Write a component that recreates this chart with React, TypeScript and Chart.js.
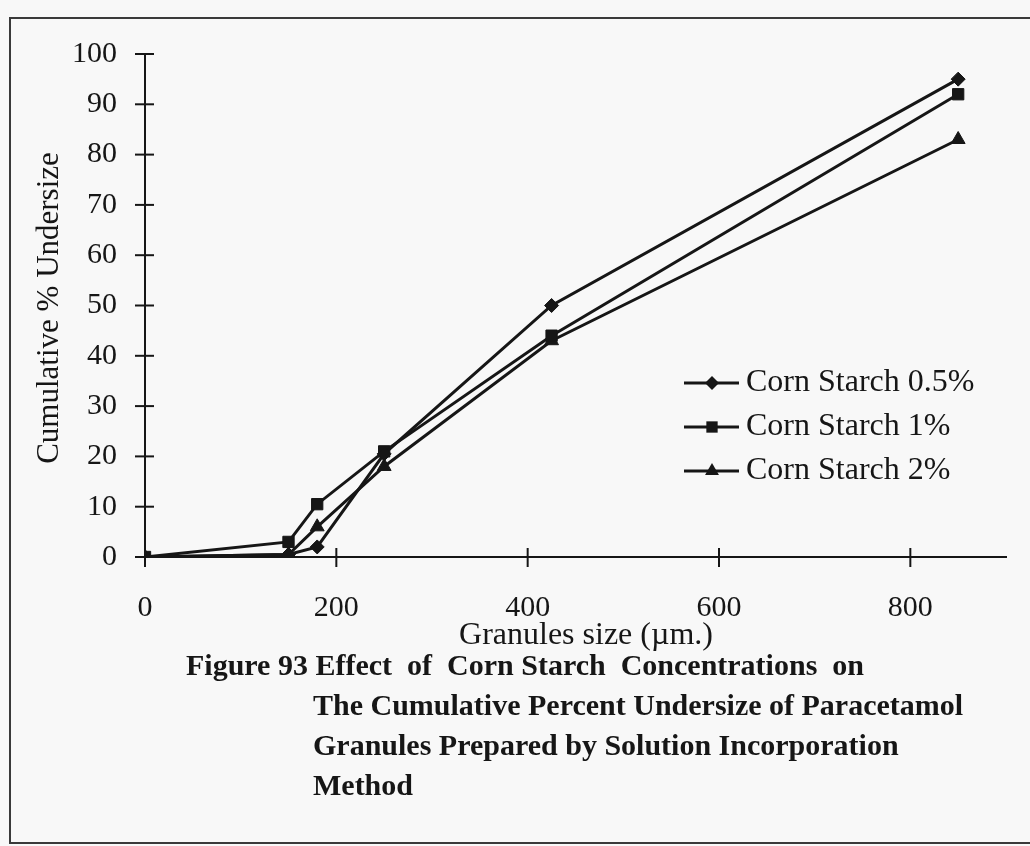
import React, { useEffect, useRef } from "react";
import { Chart, registerables } from "chart.js";

Chart.register(...registerables);

const sizes = [0, 150, 180, 250, 425, 850];
const seriesNames = ["Corn Starch 0.5%", "Corn Starch 1%", "Corn Starch 2%"];
const starch05 = [0, 0.5, 2, 20.5, 50, 95];
const starch1 = [0, 3, 10.5, 21, 44, 92];
const starch2 = [0, 0.5, 6, 18, 43, 83];
const pointStyles = ["rectRot", "rect", "triangle"];
const pointRadii = [7, 8, 8];
const xTicks = [0, 200, 400, 600, 800];
const yTicks = [0, 10, 20, 30, 40, 50, 60, 70, 80, 90, 100];
const xTitle = "Granules size (\u00b5m.)";
const yTitle = "Cumulative % Undersize";
const captionLines = [
  "Figure 93 Effect  of  Corn Starch  Concentrations  on",
  "The Cumulative Percent Undersize of Paracetamol",
  "Granules Prepared by Solution Incorporation",
  "Method",
];

const FONT = "'Liberation Serif', 'Times New Roman', serif";
const INK = "#161616";

function drawMarker(ctx: CanvasRenderingContext2D, style: string, x: number, y: number, r: number) {
  ctx.beginPath();
  if (style === "rectRot") {
    ctx.moveTo(x, y - r);
    ctx.lineTo(x + r, y);
    ctx.lineTo(x, y + r);
    ctx.lineTo(x - r, y);
    ctx.closePath();
  } else if (style === "rect") {
    const s = r * Math.SQRT1_2;
    ctx.rect(x - s, y - s, 2 * s, 2 * s);
  } else {
    ctx.moveTo(x, y - r);
    ctx.lineTo(x + r * 0.87, y + r * 0.5);
    ctx.lineTo(x - r * 0.87, y + r * 0.5);
    ctx.closePath();
  }
  ctx.fill();
}

const decorPlugin = {
  id: "decor",
  beforeDraw(chart: any) {
    const { ctx, width, height } = chart;
    ctx.save();
    ctx.fillStyle = "#f8f8f8";
    ctx.fillRect(0, 0, width, height);
    ctx.strokeStyle = "#3a3a3a";
    ctx.lineWidth = 2;
    ctx.strokeRect(10, 18, 1030, 825);
    ctx.restore();
  },
  afterDraw(chart: any) {
    const { ctx } = chart;
    const xs = chart.scales.x;
    const ys = chart.scales.y;
    ctx.save();
    ctx.strokeStyle = INK;
    ctx.lineWidth = 2;
    const ax = xs.getPixelForValue(0);
    const ay = ys.getPixelForValue(0);
    yTicks.forEach((v) => {
      const py = ys.getPixelForValue(v);
      ctx.beginPath();
      ctx.moveTo(ax - 10, py);
      ctx.lineTo(ax + 9, py);
      ctx.stroke();
    });
    xTicks.forEach((v) => {
      const px = xs.getPixelForValue(v);
      ctx.beginPath();
      ctx.moveTo(px, ay - 9);
      ctx.lineTo(px, ay + 10);
      ctx.stroke();
    });

    // axis titles
    ctx.fillStyle = INK;
    ctx.font = `32px ${FONT}`;
    ctx.textAlign = "center";
    ctx.textBaseline = "middle";
    ctx.fillText(xTitle, 586, 636);
    ctx.save();
    ctx.translate(50, 308);
    ctx.rotate(-Math.PI / 2);
    ctx.font = `31px ${FONT}`;
    ctx.fillText(yTitle, 0, 0);
    ctx.restore();

    // legend
    const rows = [383, 427, 471];
    chart.data.datasets.forEach((ds: any, i: number) => {
      const y = rows[i];
      ctx.strokeStyle = INK;
      ctx.lineWidth = 3;
      ctx.beginPath();
      ctx.moveTo(684, y);
      ctx.lineTo(739, y);
      ctx.stroke();
      ctx.fillStyle = INK;
      drawMarker(ctx, pointStyles[i], 712, y, pointRadii[i]);
      ctx.font = `32px ${FONT}`;
      ctx.textAlign = "left";
      ctx.textBaseline = "middle";
      ctx.fillText(ds.label, 746, y);
    });

    // caption
    ctx.textAlign = "left";
    ctx.textBaseline = "middle";
    ctx.font = `bold 30px ${FONT}`;
    const capY = [667, 707, 747, 787];
    captionLines.forEach((line, i) => {
      ctx.fillText(line, i === 0 ? 186 : 313, capY[i]);
    });
    ctx.restore();
  },
};

export default function App() {
  const ref = useRef<HTMLCanvasElement | null>(null);
  useEffect(() => {
    if (!ref.current) return;
    const series = [starch05, starch1, starch2];
    const chart = new Chart(ref.current, {
      type: "line",
      data: {
        labels: sizes,
        datasets: series.map((vals, i) => ({
          label: seriesNames[i],
          data: sizes.map((s, j) => ({ x: s, y: vals[j] })),
          borderColor: INK,
          backgroundColor: INK,
          borderWidth: 3,
          pointStyle: pointStyles[i] as any,
          pointRadius: pointRadii[i],
          pointBackgroundColor: INK,
          pointBorderColor: INK,
          pointBorderWidth: 1,
          tension: 0,
          fill: false,
        })),
      },
      options: {
        responsive: false,
        animation: false,
        layout: { padding: { top: 54, right: 24, bottom: 0, left: 0 } },
        plugins: {
          legend: { display: false },
          tooltip: { enabled: false },
          title: { display: false },
        },
        scales: {
          x: {
            type: "linear",
            min: 0,
            max: 900,
            afterBuildTicks: (scale: any) => {
              scale.ticks = xTicks.map((v) => ({ value: v }));
            },
            afterFit: (scale: any) => {
              scale.height = 846 - 557;
            },
            grid: { display: false, drawTicks: false },
            border: { display: true, color: INK, width: 2 },
            ticks: {
              color: INK,
              font: { family: FONT, size: 30 },
              padding: 33,
              maxRotation: 0,
              autoSkip: false,
            },
          },
          y: {
            type: "linear",
            min: 0,
            max: 100,
            afterBuildTicks: (scale: any) => {
              scale.ticks = yTicks.map((v) => ({ value: v }));
            },
            afterFit: (scale: any) => {
              scale.width = 145;
            },
            grid: { display: false, drawTicks: false },
            border: { display: true, color: INK, width: 2 },
            ticks: {
              color: INK,
              font: { family: FONT, size: 30 },
              padding: 28,
              autoSkip: false,
            },
          },
        },
      },
      plugins: [decorPlugin],
    });
    return () => chart.destroy();
  }, []);
  return (
    <div style={{ position: "absolute", left: 0, top: 0, width: 1030, height: 846 }}>
      <canvas ref={ref} width={1030} height={846} style={{ width: 1030, height: 846, display: "block" }} />
    </div>
  );
}
